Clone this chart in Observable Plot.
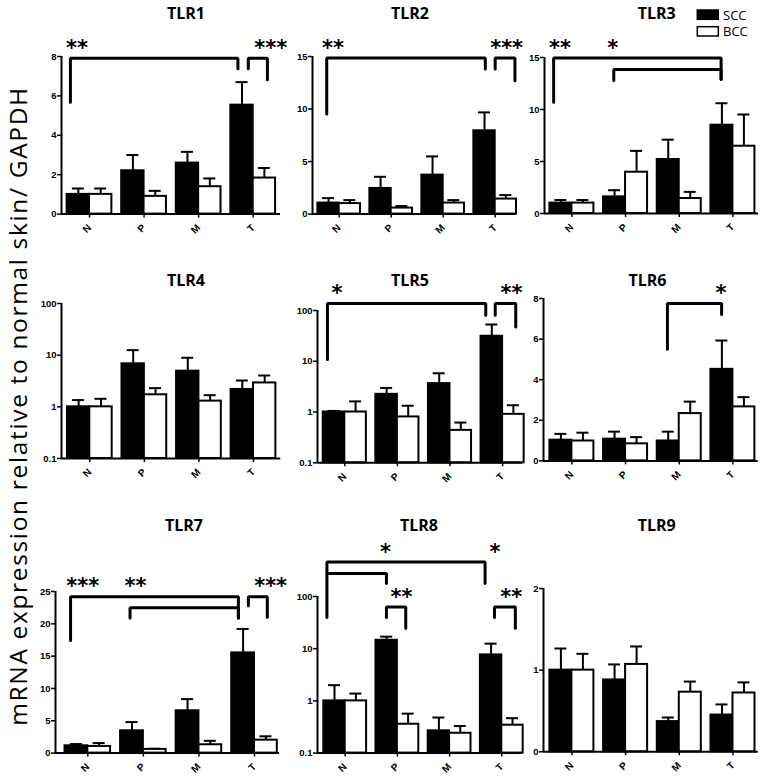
<!DOCTYPE html>
<html><head><meta charset="utf-8">
<script src="https://cdn.jsdelivr.net/npm/d3@7"></script>
<script src="https://cdn.jsdelivr.net/npm/@observablehq/plot@0.6"></script>
<style>
body{margin:0;background:#fff;}
#root{position:relative;width:764px;height:779px;overflow:hidden;background:#fff;}
#root svg{position:absolute;}
</style></head><body><div id="root"></div>
<script>
// ---------- data ----------
const categories = ["N", "P", "M", "T"];
const genes = ["TLR1", "TLR2", "TLR3", "TLR4", "TLR5", "TLR6", "TLR7", "TLR8", "TLR9"];
const series = ["SCC", "BCC"];
const yScaleType = ["linear", "linear", "linear", "log", "log", "linear", "linear", "log", "linear"];
const yTicks = [
  [0, 2, 4, 6, 8], [0, 5, 10, 15], [0, 5, 10, 15],
  [0.1, 1, 10, 100], [0.1, 1, 10, 100], [0, 2, 4, 6, 8],
  [0, 5, 10, 15, 20, 25], [0.1, 1, 10, 100], [0, 1, 2]
];
// mean values per gene, categories N, P, M, T
const sccMean = [
  [1.0, 2.2, 2.59, 5.53], [1.05, 2.44, 3.71, 7.93], [1.0, 1.6, 5.19, 8.49],
  [1.0, 6.8, 4.9, 2.17], [1.0, 2.23, 3.63, 31.1], [1.02, 1.07, 0.98, 4.51],
  [1.13, 3.45, 6.55, 15.5], [1.0, 14.5, 0.267, 7.6], [1.0, 0.88, 0.37, 0.45]
];
// upper end of the error bar
const sccUpper = [
  [1.3, 3.0, 3.16, 6.7], [1.52, 3.55, 5.49, 9.68], [1.3, 2.24, 7.1, 10.6],
  [1.35, 12.5, 8.9, 3.23], [1.05, 2.98, 5.8, 53], [1.33, 1.44, 1.44, 5.93],
  [1.4, 4.8, 8.35, 19.2], [2.0, 17, 0.48, 12.5], [1.265, 1.07, 0.42, 0.58]
];
const bccMean = [
  [1.0, 0.9, 1.39, 1.83], [1.0, 0.57, 1.05, 1.43], [1.0, 3.97, 1.44, 6.47],
  [1.0, 1.71, 1.29, 2.9], [1.0, 0.8, 0.435, 0.9], [0.98, 0.84, 2.33, 2.66],
  [1.03, 0.57, 1.29, 2.0], [1.0, 0.357, 0.24, 0.342], [1.0, 1.07, 0.73, 0.72]
];
const bccUpper = [
  [1.3, 1.18, 1.81, 2.34], [1.33, 0.76, 1.33, 1.81], [1.3, 6.02, 2.08, 9.52],
  [1.43, 2.3, 1.68, 4.04], [1.62, 1.33, 0.62, 1.36], [1.39, 1.17, 2.92, 3.14],
  [1.55, 0.67, 1.9, 2.6], [1.38, 0.57, 0.33, 0.466], [1.2, 1.29, 0.86, 0.85]
];
// significance brackets: panel, left x (category index), right x, top, left end, right end
const brackets = [
  [0, -0.35, 2.72, 7.91, 5.68, 7.38],
  [0, 2.91, 3.26, 7.91, 7.38, 6.82],
  [1, -0.24, 2.81, 14.86, 9.52, 13.8],
  [1, 3.0, 3.38, 14.86, 13.8, 12.7],
  [2, -0.34, 2.78, 14.96, 10.7, 12.9],
  [2, 0.78, 2.78, 13.85, 12.8, 12.9],
  [4, -0.33, 2.68, 137, 10.8, 80.7],
  [4, 2.86, 3.25, 137, 80.7, 47.5],
  [5, 1.78, 2.79, 7.75, 5.5, 7.21],
  [6, -0.31, 2.71, 24.2, 17.4, 20.9],
  [6, 0.76, 2.71, 22.5, 20.9, 20.9],
  [6, 2.89, 3.23, 24.2, 22.8, 21.0],
  [7, -0.35, 2.68, 460, 39.4, 177],
  [7, -0.35, 0.79, 275, 275, 177],
  [7, 0.79, 1.16, 63.2, 39.4, 24.7],
  [7, 2.86, 3.26, 63.2, 39.4, 24.7]
];
// significance stars: panel, x, reference height, label
const stars = [
  [0, -0.23, 7.91, "**"], [0, 3.32, 7.91, "***"],
  [1, -0.12, 14.86, "**"], [1, 3.22, 14.86, "***"],
  [2, -0.22, 14.96, "**"], [2, 0.76, 14.96, "*"],
  [4, -0.15, 137, "*"], [4, 3.17, 137, "**"],
  [5, 2.78, 7.75, "*"],
  [6, -0.09, 24.2, "***"], [6, 0.86, 24.2, "**"], [6, 3.29, 24.2, "***"],
  [7, 0.77, 460, "*"], [7, 2.87, 460, "*"],
  [7, 1.08, 63.2, "**"], [7, 3.18, 63.2, "**"]
];
const yLabel = "mRNA expression relative to normal skin/ GAPDH";

// ---------- layout (pixels) ----------
// axis x, N-group centre, group step, top tick y, baseline y, axis end x
const layout = [
  [61, 89, 54.57, 55.7, 213.3, 280],
  [312.3, 339, 52, 55.7, 213.3, 516],
  [544.3, 571.7, 53.67, 57.3, 213.3, 758.3],
  [60.7, 89, 54.57, 303.3, 458.3, 280],
  [316.7, 344, 52.6, 310, 462.3, 522],
  [543.3, 571.7, 53.67, 298.3, 460.7, 758],
  [55, 87.3, 55.57, 590.7, 752.3, 279],
  [317.3, 345, 52.2, 595.7, 752.3, 522],
  [543.3, 571.7, 53.7, 587.7, 751, 758]
];
const titlePos = [[186, 13], [410, 12.5], [656.7, 12.5], [186, 280], [410, 280], [647.5, 280], [184, 525], [419, 525], [656.7, 525]];

const root = document.getElementById("root");
const halfW = 0.41;

genes.forEach((g, k) => {
  const [axisX, nc, step, yTop, yBot, axisEnd] = layout[k];
  const mL = 40, mR = 8, mT = 75, mB = 36;
  const xmin = (axisX - nc) / step, xmax = (axisEnd - nc) / step;
  const width = mL + (axisEnd - axisX) + mR;
  const height = mT + (yBot - yTop) + mB;
  const isLog = yScaleType[k] === "log";
  const base = isLog ? 0.1 : 0;
  const top = d3.max(yTicks[k]);
  const rows = [];
  categories.forEach((c, i) => {
    rows.push({i, c, s: "SCC", x1: i - halfW, x2: i, v: sccMean[k][i], hi: sccUpper[k][i]});
    rows.push({i, c, s: "BCC", x1: i, x2: i + halfW, v: bccMean[k][i], hi: bccUpper[k][i]});
  });
  const cap = 6 / step;
  const br = [];
  brackets.filter(b => b[0] === k).forEach((b, j) => {
    br.push({id: j, x: b[1], y: b[4]}, {id: j, x: b[1], y: b[3]}, {id: j, x: b[2], y: b[3]}, {id: j, x: b[2], y: b[5]});
  });
  const st = stars.filter(s => s[0] === k).map(s => ({x: s[1], y: s[2], t: s[3]}));

  const svg = Plot.plot({
    width, height, marginLeft: mL, marginRight: mR, marginTop: mT, marginBottom: mB,
    style: {background: "transparent", overflow: "visible", fontFamily: "'Liberation Sans', Arial, sans-serif", color: "black"},
    x: {type: "linear", domain: [xmin, xmax]},
    y: {type: yScaleType[k], domain: [base, top]},
    marks: [
      Plot.ruleX(rows, {x: d => (d.x1 + d.x2) / 2, y1: "v", y2: "hi", stroke: "black", strokeWidth: 2}),
      Plot.ruleY(rows, {y: "hi", x1: d => (d.x1 + d.x2) / 2 - cap, x2: d => (d.x1 + d.x2) / 2 + cap, stroke: "black", strokeWidth: 2}),
      Plot.rect(rows, {x1: "x1", x2: "x2", y1: () => base, y2: "v", fill: d => d.s === "SCC" ? "black" : "white", stroke: "black", strokeWidth: 2}),
      Plot.ruleX([xmin], {stroke: "black", strokeWidth: 2}),
      Plot.ruleY([base], {stroke: "black", strokeWidth: 2}),
      Plot.axisY(yTicks[k], {tickSize: 4, tickPadding: 1, tickFormat: d => String(d), fontWeight: "bold", fontSize: 9.5, strokeWidth: 1.5, label: null}),
      Plot.axisX([0, 1, 2, 3], {tickSize: 4, tickPadding: 8, tickRotate: -45, tickFormat: i => categories[i], fontWeight: "bold", fontSize: 10, strokeWidth: 1.5, label: null}),
      Plot.line(br, {x: "x", y: "y", z: "id", stroke: "black", strokeWidth: 3, strokeLinejoin: "miter"}),
      Plot.text(st, {x: "x", y: "y", text: "t", dy: -10, fontSize: 21, fontWeight: "bold", fontFamily: "DejaVu Sans", fill: "black"})
    ]
  });
  svg.style.left = (axisX - mL) + "px";
  svg.style.top = (yTop - mT) + "px";
  root.appendChild(svg);
});

// overlay: titles, legend, shared y label
const ov = d3.select(root).append("svg").attr("width", 764).attr("height", 779).style("left", "0px").style("top", "0px");
genes.forEach((g, k) => {
  ov.append("text").attr("x", titlePos[k][0]).attr("y", titlePos[k][1]).attr("text-anchor", "middle")
    .attr("dominant-baseline", "central").attr("font-family", "'Open Sans', sans-serif").attr("font-weight", 700)
    .attr("font-size", 16).text(g);
});
const leg = [[697.3, 10, "black"], [697.3, 26.7, "white"]];
series.forEach((s, j) => {
  ov.append("rect").attr("x", leg[j][0]).attr("y", leg[j][1]).attr("width", 21).attr("height", 9.3)
    .attr("fill", leg[j][2]).attr("stroke", "black").attr("stroke-width", 1.5);
  ov.append("text").attr("x", 723).attr("y", leg[j][1] + 4.7).attr("dominant-baseline", "central")
    .attr("font-family", "'Open Sans', sans-serif").attr("font-size", 13).text(s);
});
const yl = ov.append("text").attr("transform", "translate(27,406) rotate(-90)").attr("text-anchor", "middle")
  .attr("font-family", "'Open Sans', sans-serif").attr("font-size", 24.5).text(yLabel);
const len = yl.node().getComputedTextLength();
if (len > 0) yl.attr("letter-spacing", (638 - len) / (yLabel.length - 1));
</script></body></html>
